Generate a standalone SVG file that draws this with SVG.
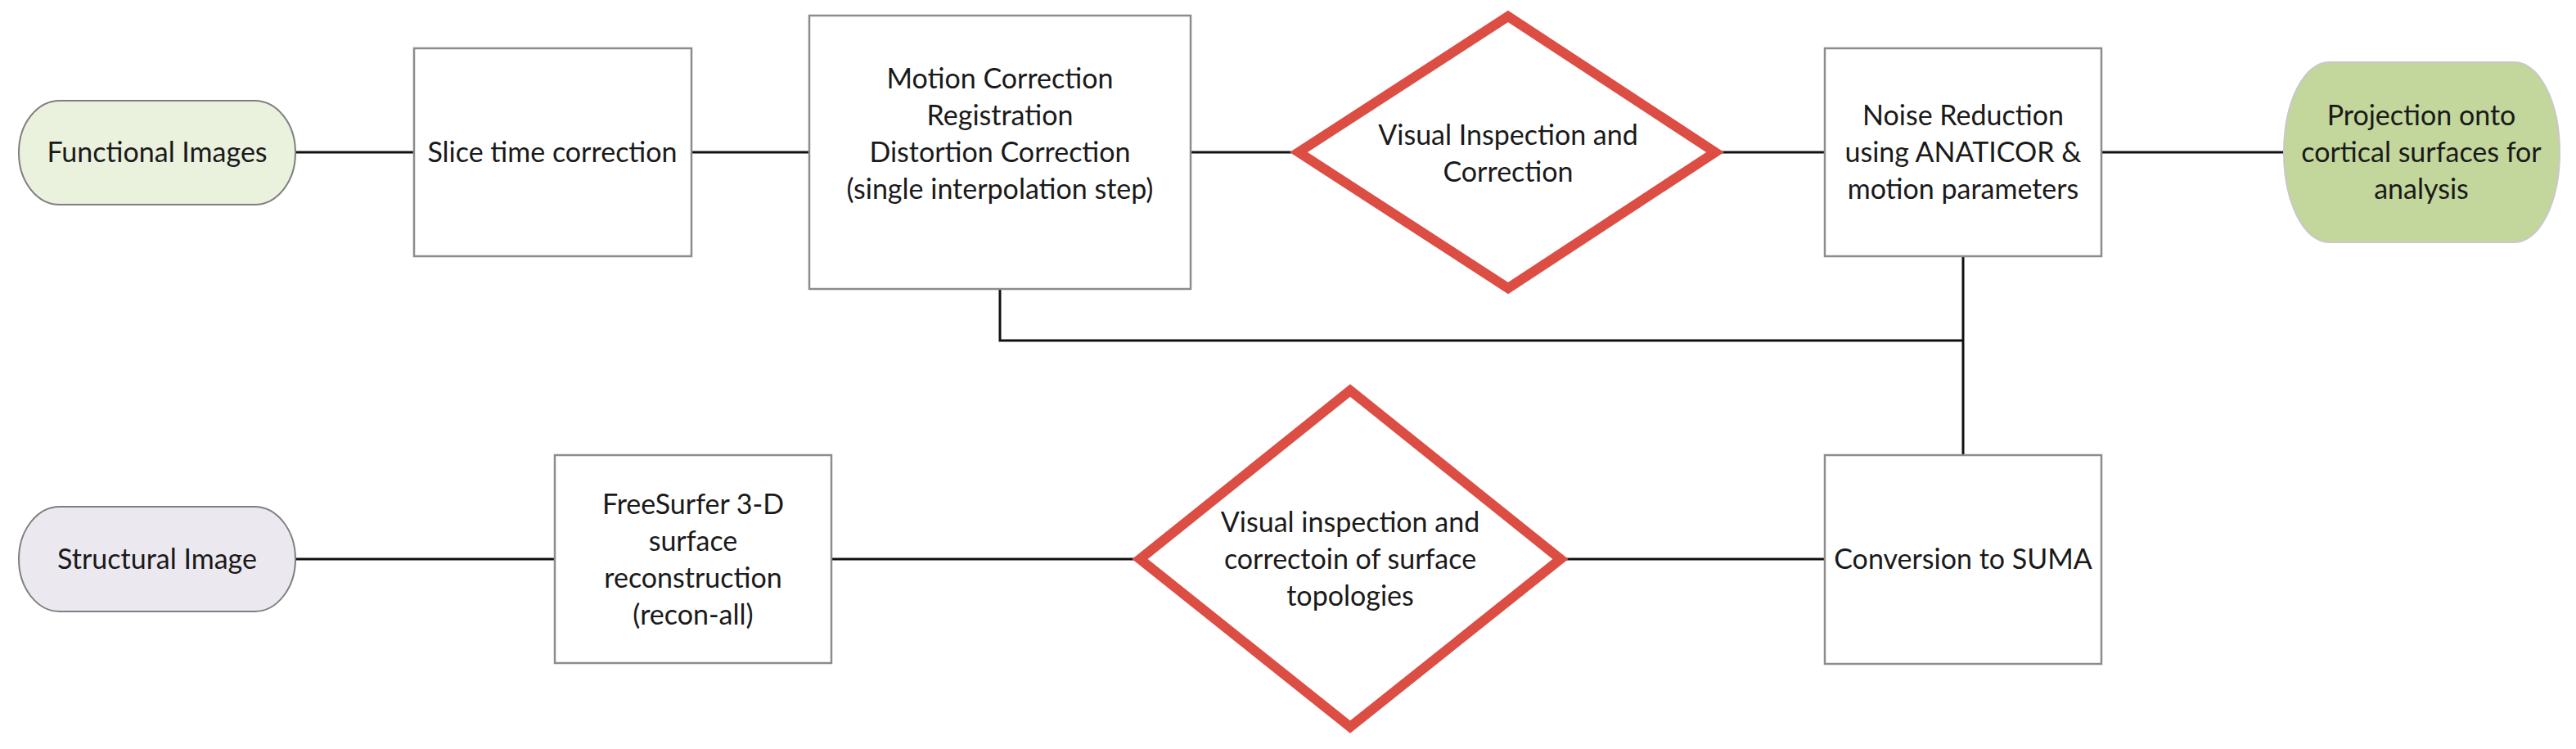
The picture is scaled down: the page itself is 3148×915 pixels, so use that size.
<svg xmlns="http://www.w3.org/2000/svg" width="3148" height="915" viewBox="0 0 3148 915">
<style>
.box{fill:#ffffff;stroke:#8c8c8c;stroke-width:2.5}
.dia{fill:#ffffff;stroke:#dc4e44;stroke-width:12;stroke-linejoin:miter;stroke-miterlimit:10}
.conn{fill:none;stroke:#111111;stroke-width:3}
text{font-family:Lato,"Open Sans","DejaVu Sans",sans-serif;font-size:34px;fill:#1a1a1a;text-anchor:middle}
</style>
<rect width="3148" height="915" fill="#ffffff"/>
<g id="connectors">
<path class="conn" d="M361 186 H506"/>
<path class="conn" d="M845 186 H989"/>
<path class="conn" d="M1455 186 H1578"/>
<path class="conn" d="M2104 186 H2230"/>
<path class="conn" d="M2568 186 H2791"/>
<path class="conn" d="M1222 353 V416 H2399"/>
<path class="conn" d="M2399 313 V556"/>
<path class="conn" d="M361 683 H678"/>
<path class="conn" d="M1016 683 H1386"/>
<path class="conn" d="M1914 683 H2230"/>
</g>
<g id="functional-images">
<rect x="23" y="123" width="338" height="127" rx="50" ry="63" fill="#eaf1dd" stroke="#7f7f7f" stroke-width="2"/>
<text x="192" y="198">Functional Images</text>
</g>
<g id="slice-time">
<rect class="box" x="506" y="59" width="339" height="254"/>
<text x="675" y="198">Slice time correction</text>
</g>
<g id="motion-correction">
<rect class="box" x="989" y="19" width="466" height="334"/>
<text x="1222" y="108">Motion Correction</text>
<text x="1222" y="153">Registration</text>
<text x="1222" y="198">Distortion Correction</text>
<text x="1222" y="243">(single interpolation step)</text>
</g>
<g id="visual-inspection-1">
<polygon class="dia" points="1843,20 2096,186 1843,352 1587,186"/>
<text x="1843" y="177">Visual Inspection and</text>
<text x="1843" y="222">Correction</text>
</g>
<g id="noise-reduction">
<rect class="box" x="2230" y="59" width="338" height="254"/>
<text x="2399" y="153">Noise Reduction</text>
<text x="2399" y="198">using ANATICOR &amp;</text>
<text x="2399" y="243">motion parameters</text>
</g>
<g id="projection">
<rect x="2791" y="76" width="337" height="220" rx="55" ry="110" fill="#c3d69b" stroke="#c8c8c8" stroke-width="2"/>
<text x="2959" y="153">Projection onto</text>
<text x="2959" y="198">cortical surfaces for</text>
<text x="2959" y="243">analysis</text>
</g>
<g id="structural-image">
<rect x="23" y="619" width="338" height="128" rx="50" ry="64" fill="#ece8f0" stroke="#7f7f7f" stroke-width="2"/>
<text x="192" y="695">Structural Image</text>
</g>
<g id="freesurfer">
<rect class="box" x="678" y="556" width="338" height="254"/>
<text x="847" y="628">FreeSurfer 3-D</text>
<text x="847" y="673">surface</text>
<text x="847" y="718">reconstruction</text>
<text x="847" y="763">(recon-all)</text>
</g>
<g id="visual-inspection-2">
<polygon class="dia" points="1650,477 1907,683 1650,888 1393,683"/>
<text x="1650" y="650">Visual inspection and</text>
<text x="1650" y="695">correctoin of surface</text>
<text x="1650" y="740">topologies</text>
</g>
<g id="conversion-suma">
<rect class="box" x="2230" y="556" width="338" height="255"/>
<text x="2399" y="695">Conversion to SUMA</text>
</g>
</svg>
